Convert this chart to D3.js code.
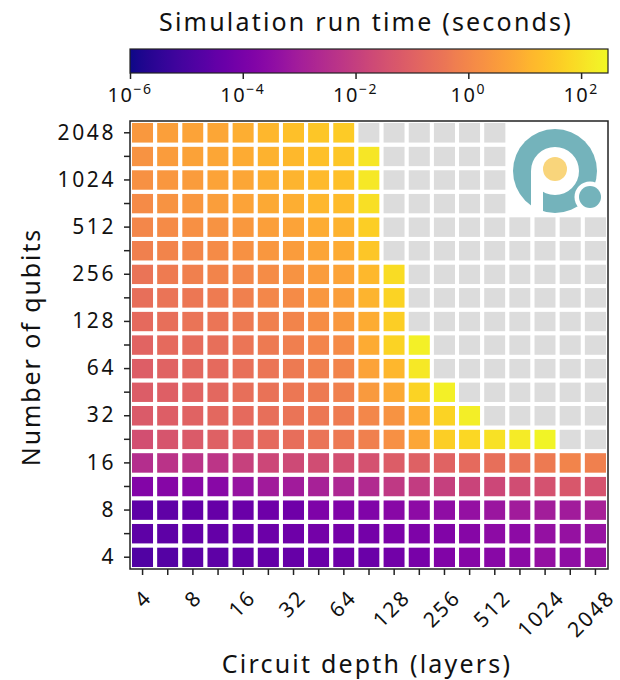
<!DOCTYPE html>
<html lang="en">
<head>
    <meta charset="UTF-8">
    <title>Simulation run time</title>
    <script src="https://d3js.org/d3.v7.min.js"></script>
    <style>
        body, html {
            margin: 0;
            background-color: #ffffff;
        }
        svg {
            display: block;
            font-family: 'Noto Sans', sans-serif;
        }
    </style>
</head>
<body>
<svg id="chart" width="620" height="680"></svg>

<script>
    // circuit depth (columns) and number of qubits (rows), half-octave steps
    const depths = [4, 6, 8, 11, 16, 23, 32, 45, 64, 91, 128, 181, 256, 362, 512, 724, 1024, 1448, 2048];
    const qubits = [4, 6, 8, 11, 16, 23, 32, 45, 64, 91, 128, 181, 256, 362, 512, 724, 1024, 1448, 2048];

    // log10 of run time (s), one value per depth; null = no result (grey),
    // shorter rows = cell not drawn
    const q4    = [-4.81, -4.77, -4.64, -4.56, -4.47, -4.43, -4.39, -4.30, -4.22, -4.28, -4.13, -4.01, -3.80, -3.71, -3.63, -3.58, -3.37, -3.46, -3.37];
    const q6    = [-4.56, -4.56, -4.47, -4.43, -4.30, -4.26, -4.22, -4.09, -4.05, -4.09, -3.92, -3.88, -3.80, -3.71, -3.54, -3.54, -3.37, -3.33, -3.29];
    const q8    = [-4.56, -4.52, -4.47, -4.39, -4.30, -4.22, -4.18, -3.88, -3.84, -3.84, -3.63, -3.54, -3.46, -3.37, -3.20, -3.03, -2.99, -3.03, -2.86];
    const q11   = [-3.75, -3.71, -3.63, -3.63, -3.29, -3.03, -3.03, -2.86, -2.69, -2.61, -2.18, -2.06, -1.97, -1.84, -1.76, -1.59, -1.46, -1.29, -1.42];
    const q16   = [-2.52, -2.35, -2.31, -2.27, -1.93, -1.76, -1.68, -1.59, -1.51, -1.46, -1.12, -1.00, -0.95, -0.74, -0.62, -0.49, -0.32, -0.06, -0.15];
    const q23   = [-1.51, -1.34, -1.17, -1.00, -0.91, -0.74, -0.66, -0.49, -0.36, -0.15, 0.23, 0.78, 1.63, 1.80, 2.01, 2.18, 2.35, null, null];
    const q32   = [-1.17, -1.08, -0.95, -0.83, -0.74, -0.62, -0.49, -0.40, -0.28, 0.02, 0.32, 0.91, 1.72, 2.27, null, null, null, null, null];
    const q45   = [-1.12, -1.04, -0.91, -0.83, -0.62, -0.53, -0.40, -0.32, -0.15, 0.49, 0.83, 1.72, 2.31, null, null, null, null, null, null];
    const q64   = [-1.08, -0.95, -0.83, -0.74, -0.57, -0.45, -0.32, -0.15, -0.06, 0.70, 1.12, 2.14, null, null, null, null, null, null, null];
    const q91   = [-0.91, -0.74, -0.70, -0.62, -0.45, -0.32, -0.19, -0.02, 0.11, 0.87, 1.72, 2.31, null, null, null, null, null, null, null];
    const q128  = [-0.74, -0.62, -0.49, -0.45, -0.32, -0.15, -0.06, 0.19, 0.44, 0.91, 1.63, null, null, null, null, null, null, null, null];
    const q181  = [-0.62, -0.49, -0.40, -0.28, -0.15, 0.02, 0.11, 0.40, 0.57, 1.08, 1.72, null, null, null, null, null, null, null, null];
    const q256  = [-0.49, -0.28, -0.15, -0.06, 0.02, 0.15, 0.32, 0.53, 0.70, 1.17, 1.89, null, null, null, null, null, null, null, null];
    const q362  = [-0.15, -0.06, 0.02, 0.11, 0.28, 0.40, 0.53, 0.74, 0.87, 1.46, null, null, null, null, null, null, null, null, null];
    const q512  = [0.02, 0.11, 0.23, 0.32, 0.44, 0.61, 0.70, 0.91, 1.04, 1.63, null, null, null, null, null, null, null, null, null];
    const q724  = [0.11, 0.32, 0.40, 0.57, 0.70, 0.83, 0.95, 1.12, 1.25, 1.97, null, null, null, null, null];
    const q1024 = [0.28, 0.40, 0.53, 0.70, 0.78, 0.95, 1.08, 1.21, 1.34, 2.14, null, null, null, null, null];
    const q1448 = [0.32, 0.53, 0.66, 0.78, 0.87, 1.04, 1.17, 1.34, 1.46, 2.10, null, null, null, null, null];
    const q2048 = [0.44, 0.61, 0.70, 0.78, 0.95, 1.12, 1.34, 1.46, 1.55, null, null, null, null, null, null];

    const rows = [q4, q6, q8, q11, q16, q23, q32, q45, q64, q91, q128, q181, q256, q362, q512, q724, q1024, q1448, q2048];

    // colour bar range (seconds) and its ticks
    const timeRange = [1e-6, 300];
    const timeTicks = [1e-6, 1e-4, 1e-2, 1, 1e2];

    const svg = d3.select('#chart');
    const plot = { left: 130, top: 121, right: 608, bottom: 569 };
    const font = 'Noto Sans';

    const x = d3.scaleBand().domain(depths).range([plot.left, plot.right]);
    const y = d3.scaleBand().domain(qubits.slice().reverse()).range([plot.top, plot.bottom]);
    const color = d3.scaleSequential(d3.interpolatePlasma)
        .domain([Math.log10(timeRange[0]), Math.log10(timeRange[1])]);

    // cells
    const cells = [];
    rows.forEach((row, i) => {
        row.forEach((v, j) => cells.push({ q: qubits[i], d: depths[j], v: v }));
    });

    svg.append('g')
        .selectAll('rect')
        .data(cells)
        .join('rect')
        .attr('x', d => x(d.d))
        .attr('y', d => y(d.q))
        .attr('width', x.bandwidth())
        .attr('height', y.bandwidth())
        .attr('fill', d => d.v === null ? '#dcdcdc' : color(d.v))
        .attr('stroke', '#ffffff')
        .attr('stroke-width', 4);

    // logo in the empty corner
    const logo = svg.append('g').attr('transform', 'translate(555,171)');
    logo.append('circle').attr('r', 42).attr('fill', '#74b3bb');
    logo.append('circle').attr('r', 24).attr('fill', '#ffffff');
    logo.append('rect').attr('x', -24).attr('y', 0).attr('width', 12).attr('height', 44).attr('fill', '#ffffff');
    logo.append('circle').attr('cx', 0).attr('cy', -2).attr('r', 12).attr('fill', '#f9d57b');
    logo.append('circle').attr('cx', 35).attr('cy', 26).attr('r', 15.5).attr('fill', '#ffffff');
    logo.append('circle').attr('cx', 35).attr('cy', 26).attr('r', 11).attr('fill', '#74b3bb');

    // frame
    svg.append('rect')
        .attr('x', plot.left).attr('y', plot.top)
        .attr('width', plot.right - plot.left).attr('height', plot.bottom - plot.top)
        .attr('fill', 'none').attr('stroke', '#222').attr('stroke-width', 1.5);

    // axes
    const pow2 = d => Math.log2(d) % 1 === 0;

    const yAxis = svg.append('g')
        .attr('transform', `translate(${plot.left},0)`)
        .call(d3.axisLeft(y).tickSize(6).tickPadding(8).tickFormat(d => pow2(d) ? d : ''));

    const xAxis = svg.append('g')
        .attr('transform', `translate(0,${plot.bottom})`)
        .call(d3.axisBottom(x).tickSize(6).tickFormat(''));

    [yAxis, xAxis].forEach(a => {
        a.select('.domain').remove();
        a.selectAll('line').attr('stroke', '#222').attr('stroke-width', 1.5);
    });
    yAxis.selectAll('text')
        .attr('font-family', font).attr('font-size', 21).attr('fill', '#111')
        .attr('letter-spacing', 2.6);

    // rotated depth labels: box centred near the tick, top just under it
    const xLabels = svg.append('g');
    depths.filter(pow2).forEach(d => {
        const t = xLabels.append('text')
            .attr('font-family', font).attr('font-size', 21).attr('fill', '#111')
            .attr('letter-spacing', 2)
            .attr('text-anchor', 'middle')
            .attr('dominant-baseline', 'central')
            .text(d);
        const w = t.node().getComputedTextLength();
        const cx = x(d) + x.bandwidth() / 2 - (w - 14) / 9;
        const half = (w + 15) / (2 * Math.SQRT2);
        const cy = plot.bottom + 19 + half;
        t.attr('transform', `translate(${cx},${cy}) rotate(-45)`);
    });

    // axis titles
    svg.append('text')
        .attr('x', 367).attr('y', 673)
        .attr('text-anchor', 'middle')
        .attr('font-family', font).attr('font-size', 25).attr('fill', '#111')
        .attr('letter-spacing', 2.2)
        .text('Circuit depth (layers)');

    svg.append('text')
        .attr('transform', 'translate(40,347) rotate(-90)')
        .attr('text-anchor', 'middle')
        .attr('font-family', font).attr('font-size', 25).attr('fill', '#111')
        .attr('letter-spacing', 1.9)
        .text('Number of qubits');

    // colour bar
    const bar = { left: 130, right: 608, top: 49, bottom: 73 };
    const cb = d3.scaleLog().domain(timeRange).range([bar.left, bar.right]);

    const grad = svg.append('defs').append('linearGradient').attr('id', 'plasma');
    d3.range(0, 1.0001, 0.02).forEach(t => {
        grad.append('stop').attr('offset', t).attr('stop-color', d3.interpolatePlasma(t));
    });

    svg.append('rect')
        .attr('x', bar.left).attr('y', bar.top)
        .attr('width', bar.right - bar.left).attr('height', bar.bottom - bar.top)
        .attr('fill', 'url(#plasma)')
        .attr('stroke', '#222').attr('stroke-width', 1.2);

    const cbAxis = svg.append('g')
        .attr('transform', `translate(0,${bar.bottom})`)
        .call(d3.axisBottom(cb).tickValues(timeTicks).tickSize(6).tickFormat(''));
    cbAxis.select('.domain').remove();
    cbAxis.selectAll('line').attr('stroke', '#222').attr('stroke-width', 1.5);

    timeTicks.forEach(v => {
        const t = svg.append('text')
            .attr('x', cb(v)).attr('y', 102)
            .attr('text-anchor', 'middle')
            .attr('font-family', font).attr('font-size', 20).attr('fill', '#111')
            .attr('letter-spacing', 1.5);
        t.append('tspan').text('10');
        const e = Math.round(Math.log10(v));
        t.append('tspan')
            .attr('dy', -8).attr('font-size', 14)
            .text(e < 0 ? '\u2212' + (-e) : e);
    });

    svg.append('text')
        .attr('x', 366).attr('y', 31)
        .attr('text-anchor', 'middle')
        .attr('font-family', font).attr('font-size', 25).attr('fill', '#111')
        .attr('letter-spacing', 2.2)
        .text('Simulation run time (seconds)');
</script>
</body>
</html>
